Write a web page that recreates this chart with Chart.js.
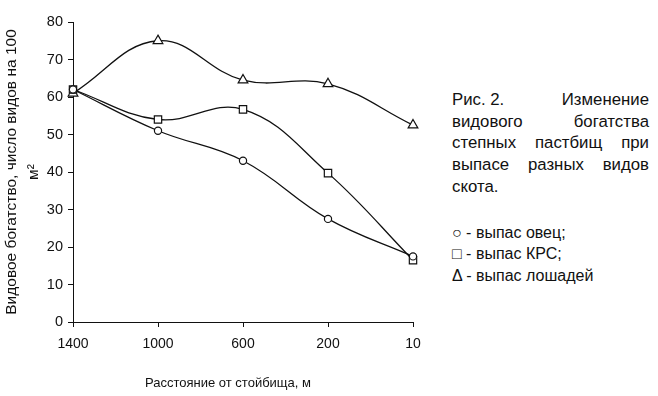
<!DOCTYPE html>
<html lang="ru">
<head>
<meta charset="utf-8">
<script src="https://cdn.jsdelivr.net/npm/chart.js@4.4.1/dist/chart.umd.min.js"></script>
<style>
  html, body { margin: 0; padding: 0; background: #fff; }
  body { width: 658px; height: 396px; position: relative; overflow: hidden; font-family: "Liberation Sans", Arial, sans-serif; color: #111; }
  #wrap { position: absolute; left: 0; top: 0; width: 440px; height: 396px; }
  #xtitulo { position: absolute; left: 145px; top: 375px; font-size: 13px; white-space: nowrap; }
  #note { position: absolute; left: 452px; top: 89px; width: 197px; font-size: 16.8px; line-height: 21.7px; }
  #note p { margin: 0; text-align: justify; }
  #note .fig { display: inline-block; white-space: nowrap; }
  #legend { margin-top: 24px; font-size: 16px; }
</style>
</head>
<body>
<div id="wrap"><canvas id="grafico" width="440" height="396"></canvas></div>
<div id="xtitulo">Расстояние от стойбища, м</div>
<div id="note">
  <p><span class="fig">Рис. 2.</span> Изменение видового богатства степных пастбищ при выпасе разных видов скота.</p>
  <div id="legend">
    <div>○ - выпас овец;</div>
    <div>□ - выпас КРС;</div>
    <div>Δ - выпас лошадей</div>
  </div>
</div>
<script>
// Расстояние от стойбища, м
const distancias = ["1400", "1000", "600", "200", "10"];

// Видовое богатство, число видов на 100 м2
const ovejas = [62, 51, 43, 27.5, 17.5];
const krs = [62, 54, 56.7, 39.7, 16.5];
const caballos = [61, 75, 64.5, 63.5, 52.5];

const yTicks = [0, 10, 20, 30, 40, 50, 60, 70, 80];

function serie(label, valores, estilo, radio) {
    return {
        label: label,
        data: valores,
        borderColor: "#111",
        borderWidth: 1.3,
        backgroundColor: "#fff",
        pointStyle: estilo,
        pointRadius: radio,
        pointBorderWidth: 1.2,
        pointBorderColor: "#111",
        pointBackgroundColor: "#fff",
        tension: 0.4,
        fill: false
    };
}

new Chart(document.getElementById("grafico"), {
    type: "line",
    data: {
        labels: distancias,
        datasets: [
            serie("выпас овец", ovejas, "circle", 3.6),
            serie("выпас КРС", krs, "rect", 5.2),
            serie("выпас лошадей", caballos, "triangle", 5.6)
        ]
    },
    options: {
        responsive: false,
        animation: false,
        devicePixelRatio: 1,
        layout: { padding: { left: 0, top: 22, right: 27, bottom: 4 } },
        plugins: {
            legend: { display: false },
            tooltip: { enabled: false }
        },
        scales: {
            x: {
                type: "category",
                offset: false,
                border: { display: true, color: "#111", width: 1 },
                grid: { display: true, drawOnChartArea: false, drawTicks: true, tickLength: 5, color: "#111" },
                ticks: { color: "#111", font: { family: "Liberation Sans", size: 14 }, padding: 9, maxRotation: 0 },
                afterFit: function (scale) { scale.height = 70; }
            },
            y: {
                min: 0,
                max: 80,
                afterBuildTicks: function (scale) {
                    scale.ticks = yTicks.map(v => ({ value: v }));
                },
                border: { display: true, color: "#111", width: 1 },
                grid: { display: true, drawOnChartArea: false, drawTicks: true, tickLength: 5, color: "#111" },
                ticks: { color: "#111", font: { family: "Liberation Sans", size: 14.5 }, padding: 5 },
                title: {
                    display: true,
                    text: ["Видовое богатство, число видов на 100", "м²"],
                    color: "#111",
                    font: { family: "Liberation Sans", size: 15.5, lineHeight: 1.45 },
                    padding: { top: 0, bottom: 2 }
                },
                afterFit: function (scale) { scale.width = 73; }
            }
        }
    }
});
</script>
</body>
</html>
